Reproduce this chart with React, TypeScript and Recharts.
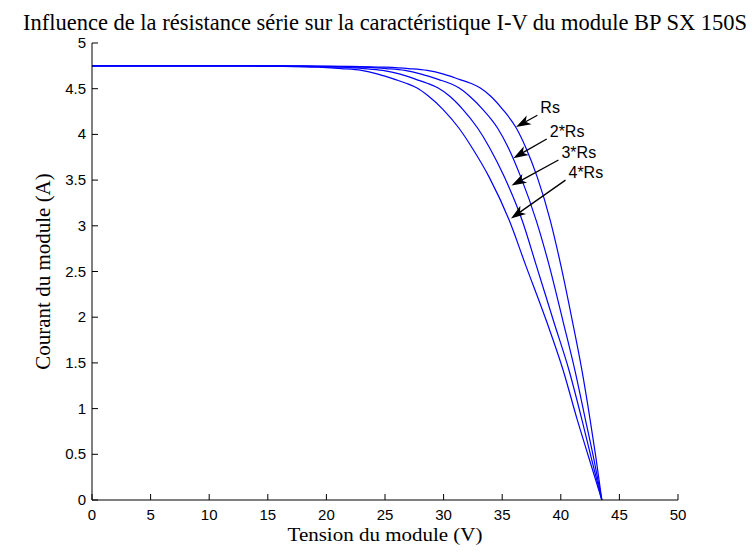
import React from 'react';
import {LineChart, Line, XAxis, YAxis, ReferenceLine} from 'recharts';

// courant (A) commun aux 4 courbes, tension (V) lue pour chaque valeur de Rs
const courant = [4.75, 4.75, 4.749, 4.745, 4.735, 4.72, 4.70, 4.66, 4.60, 4.56, 4.51, 4.42, 4.28, 4.07, 3.86, 3.53, 3.06, 2.57, 1.95, 1.42, 0.88, 0.46, 0];
const tensionRs = [0, 10, 18, 22, 25, 27, 28.6, 30, 31.4, 32.3, 33.1, 34, 35, 36.2, 37, 38, 39.1, 40, 41, 41.8, 42.5, 43, 43.5];
const tension2Rs = [0, 10, 16.1, 20.1, 23.1, 25.1, 26.7, 28.1, 29.6, 30.5, 31.3, 32.2, 33.3, 34.6, 35.5, 36.6, 37.9, 39.0, 40.2, 41.2, 42.1, 42.8, 43.5];
const tension3Rs = [0, 10, 14.2, 18.2, 21.2, 23.2, 24.8, 26.3, 27.7, 28.6, 29.5, 30.5, 31.6, 32.9, 33.9, 35.2, 36.7, 37.9, 39.4, 40.7, 41.8, 42.6, 43.5];
const tension4Rs = [0, 10, 12.3, 16.3, 19.3, 21.3, 23.0, 24.4, 25.9, 26.8, 27.7, 28.7, 29.9, 31.3, 32.4, 33.9, 35.6, 37.0, 38.8, 40.2, 41.4, 42.4, 43.5];

const ticksX = [0, 5, 10, 15, 20, 25, 30, 35, 40, 45, 50];
const ticksY = [0, 0.5, 1, 1.5, 2, 2.5, 3, 3.5, 4, 4.5, 5];

// fleches d'annotation : texte, queue (V, I), pointe (V, I)
const annoTexte = ['Rs', '2*Rs', '3*Rs', '4*Rs'];
const queueV = [38.0, 38.8, 39.8, 40.4];
const queueI = [4.21, 3.95, 3.72, 3.50];
const pointeV = [36.18, 35.95, 35.8, 35.75];
const pointeI = [4.08, 3.74, 3.44, 3.08];

const courbes = [tensionRs, tension2Rs, tension3Rs, tension4Rs].map(t => t.map((v, k) => ({v, i: courant[k]})));

const sans = '"Liberation Sans", Arial, Helvetica, sans-serif';
const serif = '"Liberation Serif", "Times New Roman", serif';

const XTick = (props: any) => {
    const {x, y, payload} = props;
    return (
        <g>
            <line x1={x} y1={y} x2={x} y2={y - 6} stroke="#000"/>
            <text x={x} y={y + 20} textAnchor="middle" fontFamily={sans} fontSize={15} fill="#000">{payload.value}</text>
        </g>
    );
};

const YTick = (props: any) => {
    const {x, y, payload} = props;
    return (
        <g>
            <line x1={x} y1={y} x2={x + 6} y2={y} stroke="#000"/>
            <text x={x - 6} y={y + 5} textAnchor="end" fontFamily={sans} fontSize={15} fill="#000">{payload.value}</text>
        </g>
    );
};

const fleche = (texte: string) => (props: any) => {
    const {x1, y1, x2, y2} = props;
    const dx = x2 - x1, dy = y2 - y1;
    const len = Math.hypot(dx, dy) || 1;
    const ux = dx / len, uy = dy / len;
    const px = -uy, py = ux;
    const bx = x2 - ux * 15, by = y2 - uy * 15;
    const nx = x2 - ux * 11, ny = y2 - uy * 11;
    return (
        <g>
            <line x1={x1} y1={y1} x2={nx} y2={ny} stroke="#000" strokeWidth={1.3}/>
            <polygon points={`${x2},${y2} ${bx + px * 5},${by + py * 5} ${nx},${ny} ${bx - px * 5},${by - py * 5}`} fill="#000"/>
            <text x={x1 + 3} y={y1 - 2} fontFamily={sans} fontSize={16} fill="#000">{texte}</text>
        </g>
    );
};

const App = (): JSX.Element => {
    return (
        <div style={{position: 'absolute', left: 0, top: 0, width: 753, height: 553, overflow: 'hidden', background: '#fff'}}>
            <div style={{position: 'absolute', left: 0, top: 11, width: 770, textAlign: 'center', whiteSpace: 'nowrap',
                fontFamily: serif, fontSize: 22.5, lineHeight: '23px', color: '#000'}}>
                Influence de la résistance série sur la caractéristique I-V du module BP SX 150S
            </div>
            <LineChart width={753} height={553} margin={{top: 43, right: 75, bottom: 23, left: 42}}>
                <XAxis type="number" dataKey="v" domain={[0, 50]} ticks={ticksX} interval={0} height={30}
                       tickSize={0} tickMargin={0} tickLine={false} tick={<XTick/>} axisLine={{stroke: '#000'}}
                       allowDataOverflow
                       label={{
                           content: (p: any) => {
                               const bx = p.viewBox.x + p.viewBox.width / 2;
                               const by = p.viewBox.y + 41;
                               return (
                                   <text x={bx} y={by} transform={`translate(0, ${by}) scale(1, 0.85) translate(0, ${-by})`}
                                         textAnchor="middle" fontFamily={serif} fontSize={21} fill="#000">
                                       Tension du module (V)
                                   </text>
                               );
                           }
                       }}/>
                <YAxis type="number" domain={[0, 5]} ticks={ticksY} interval={0} width={50}
                       tickSize={0} tickMargin={0} tickLine={false} tick={<YTick/>} axisLine={{stroke: '#000'}}
                       allowDataOverflow
                       label={{
                           content: (p: any) => {
                               const cx = p.viewBox.x + 8;
                               const cy = p.viewBox.y + p.viewBox.height / 2;
                               return (
                                   <text x={cx} y={cy} transform={`rotate(-90, ${cx}, ${cy})`} textAnchor="middle"
                                         fontFamily={serif} fontSize={21} fill="#000">Courant du module (A)</text>
                               );
                           }
                       }}/>
                {courbes.map((d, k) => (
                    <Line key={k} data={d} dataKey="i" type="monotone" stroke="#0000ff" strokeWidth={1.2}
                          dot={false} isAnimationActive={false}/>
                ))}
                {annoTexte.map((t, k) => (
                    <ReferenceLine key={t} segment={[{x: queueV[k], y: queueI[k]}, {x: pointeV[k], y: pointeI[k]}]}
                                   shape={fleche(t)}/>
                ))}
            </LineChart>
        </div>
    );
};

export default App;
